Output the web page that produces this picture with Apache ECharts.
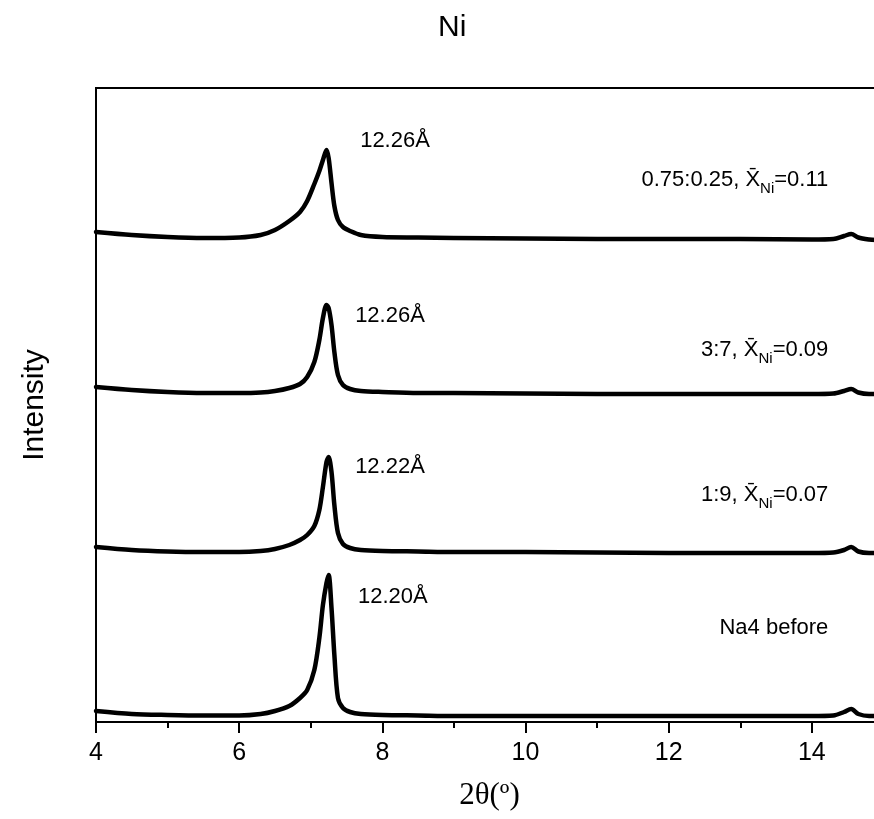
<!DOCTYPE html>
<html>
<head>
<meta charset="utf-8">
<script src="https://cdn.jsdelivr.net/npm/echarts@6/dist/echarts.min.js"></script>
<style>
  html, body { margin: 0; padding: 0; background: #fff; overflow: hidden; }
  /* the plot runs past the right edge of the picture, so the canvas is wider than the window */
  #chart { width: 955px; height: 819px; }
</style>
</head>
<body>
<div id="chart"></div>
<script>
// 2-theta positions shared by all four patterns
const twoTheta = [4.0, 4.5, 5.0, 5.5, 6.0, 6.3, 6.5, 6.7, 6.85, 6.95, 7.05, 7.12, 7.17, 7.22, 7.25,
    7.29, 7.33, 7.38, 7.45, 7.55, 7.7, 8.0, 8.5, 9, 10, 11, 12, 13, 14, 14.3, 14.45, 14.55, 14.65, 14.8, 14.9]

// stacked intensities (arbitrary units, already offset)
const ni075 = [490, 487, 485, 484, 484.5, 487, 492, 501, 510, 521, 538, 551, 562, 572, 564,
    539, 516, 502, 495, 491, 487, 485, 484.5, 484, 483.5, 483, 483, 483, 482.5, 483, 486, 488, 484.5, 482.5, 482]
const ni37 = [335, 332, 330, 329, 329, 329.5, 331, 334, 338, 345, 360, 382, 404, 417, 414,
    397, 370, 347, 337, 333, 331, 330, 329, 329, 328.5, 328, 328, 328, 328, 328.5, 331, 333, 329.5, 328, 328]
const ni19 = [175, 172, 170.5, 170, 170, 171, 173, 177, 182, 187, 196, 212, 235, 260, 265,
    250, 217, 189, 178, 174, 172, 171, 170.5, 170, 170, 169.5, 169, 169, 169, 169.5, 172, 175, 170.5, 169, 169]
const na4 = [11, 8, 7, 6.5, 6.5, 8, 11, 16, 24, 32, 52, 84, 117, 139, 147,
    114, 67, 24, 14, 10, 8, 7, 6.5, 6, 6, 6, 6, 6, 6, 6.5, 10, 13, 8, 6, 6]

// d-spacing notes next to each peak
const dNotes = ['12.26Å', '12.26Å', '12.22Å', '12.20Å']
const dNoteX = [7.69, 7.62, 7.62, 7.66]
const dNoteY = [581, 406, 255, 125]

// sample names, right aligned
const sampleNotes = [
    '{m|0.75:0.25, X\u0304}{sub|Ni}{m|=0.11}',
    '{m|3:7, X\u0304}{sub|Ni}{m|=0.09}',
    '{m|1:9, X\u0304}{sub|Ni}{m|=0.07}',
    'Na4 before'
]
const sampleNoteX = [14.23, 14.23, 14.23, 14.23]
const sampleNoteY = [542, 372, 227, 94]

const xTicks = { min: 4, max: 16, interval: 2 }

const font = 'Liberation Sans, Arial, sans-serif'

function curve(ys) {
    return {
        type: 'line',
        data: twoTheta.map((x, i) => [x, ys[i]]),
        showSymbol: false,
        smooth: 0.3,
        lineStyle: { color: '#000', width: 4.5, cap: 'round', join: 'round' },
        silent: true
    }
}

function notes(xs, ys, texts, position) {
    return {
        type: 'scatter',
        symbolSize: 0,
        silent: true,
        itemStyle: { opacity: 1 },
        data: texts.map((t, i) => [xs[i], ys[i], t]),
        label: {
            show: true,
            position: position,
            distance: 0,
            formatter: p => p.data[2],
            fontFamily: font,
            fontSize: 22,
            color: '#000',
            rich: {
                m: { fontFamily: font, fontSize: 22, lineHeight: 33, color: '#000' },
                sub: { fontFamily: font, fontSize: 15, lineHeight: 15, padding: [18, 0, 0, 0], color: '#000' }
            }
        }
    }
}

const chart = echarts.init(document.getElementById('chart'), null, { renderer: 'canvas' })

const options = {
    animation: false,
    backgroundColor: '#fff',
    title: {
        text: 'Ni',
        left: 433,
        top: 8,
        textStyle: { fontFamily: font, fontSize: 30, fontWeight: 'normal', color: '#000' }
    },
    grid: {
        left: 96,
        right: 0,
        top: 88,
        bottom: 97,
        outerBoundsMode: 'none',
        show: true,
        borderColor: '#000',
        borderWidth: 2
    },
    xAxis: {
        type: 'value',
        min: xTicks.min,
        max: xTicks.max,
        interval: xTicks.interval,
        name: '2θ(º)',
        nameLocation: 'middle',
        nameGap: 58,
        // axis is wider than the visible area; pull the name back to the visible centre
        nameTextStyle: {
            fontFamily: 'Liberation Serif, Times New Roman, serif',
            fontSize: 31,
            color: '#000',
            padding: [0, 72, 0, 0]
        },
        axisLine: { show: true, lineStyle: { color: '#000', width: 2 } },
        axisTick: { show: true, length: 11, lineStyle: { color: '#000', width: 2 } },
        minorTick: { show: true, splitNumber: 2, length: 6, lineStyle: { color: '#000', width: 2 } },
        axisLabel: { fontFamily: font, fontSize: 25, color: '#000', margin: 19 },
        splitLine: { show: false }
    },
    yAxis: {
        type: 'value',
        min: 0,
        max: 634,
        name: 'Intensity',
        nameLocation: 'middle',
        nameGap: 46,
        nameTextStyle: { fontFamily: font, fontSize: 30, color: '#000' },
        axisLine: { show: true, lineStyle: { color: '#000', width: 2 } },
        axisTick: { show: false },
        axisLabel: { show: false },
        splitLine: { show: false }
    },
    series: [
        curve(ni075),
        curve(ni37),
        curve(ni19),
        curve(na4),
        notes(dNoteX, dNoteY, dNotes, 'right'),
        notes(sampleNoteX, sampleNoteY, sampleNotes, 'left')
    ]
}

chart.setOption(options)
</script>
</body>
</html>
